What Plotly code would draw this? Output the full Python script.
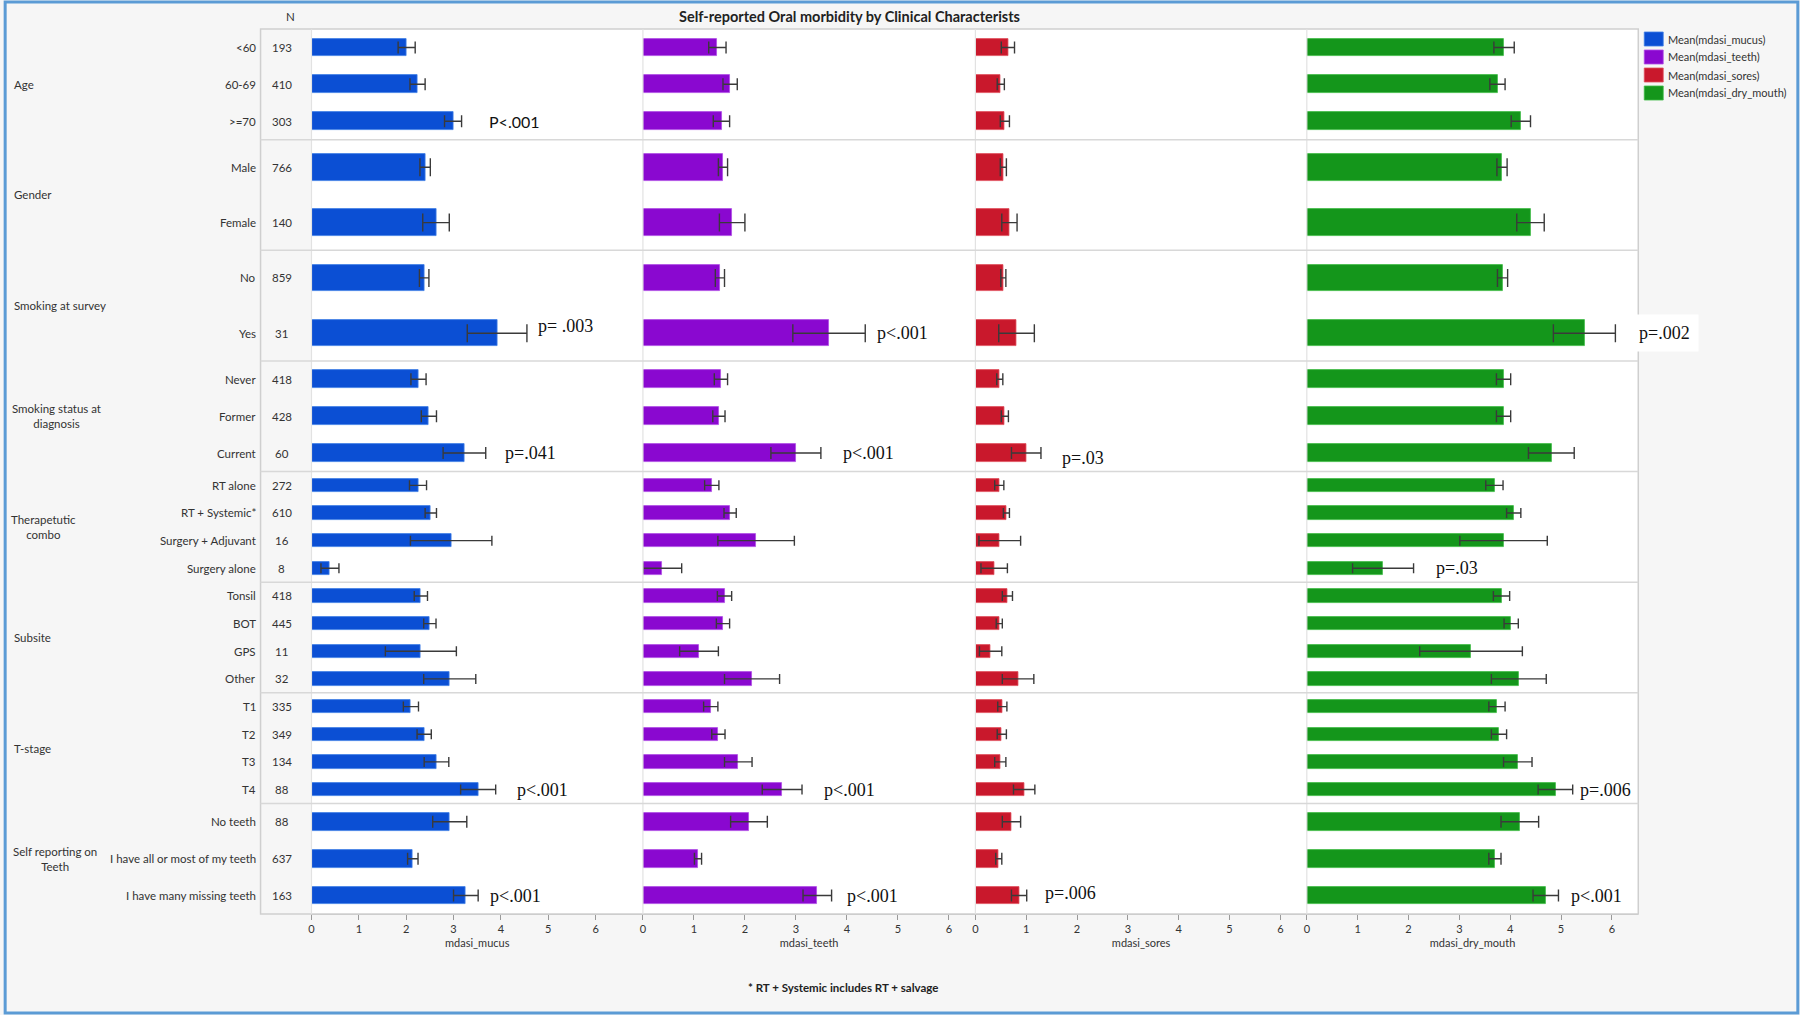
import plotly.graph_objects as go

# ---------------- data ----------------
groups = ["Age", "Gender", "Smoking at survey", "Smoking status at<br>diagnosis",
          "Therapetutic<br>combo", "Subsite", "T-stage", "Self reporting on<br>Teeth"]
categories = [["<60", "60-69", ">=70"],
              ["Male", "Female"],
              ["No", "Yes"],
              ["Never", "Former", "Current"],
              ["RT alone", "RT + Systemic*", "Surgery + Adjuvant", "Surgery alone"],
              ["Tonsil", "BOT", "GPS", "Other"],
              ["T1", "T2", "T3", "T4"],
              ["No teeth", "I have all or most of my teeth", "I have many missing teeth"]]
n_counts = [[193, 410, 303], [766, 140], [859, 31], [418, 428, 60],
            [272, 610, 16, 8], [418, 445, 11, 32], [335, 349, 134, 88], [88, 637, 163]]

measures = ["mdasi_mucus", "mdasi_teeth", "mdasi_sores", "mdasi_dry_mouth"]

mucus_mean = [2.01, 2.24, 2.99, 2.40, 2.63, 2.38, 3.92, 2.26, 2.48, 3.23,
              2.25, 2.52, 2.95, 0.39, 2.31, 2.50, 2.31, 2.92,
              2.10, 2.38, 2.64, 3.52, 2.92, 2.14, 3.26]
mucus_err = [0.18, 0.16, 0.18, 0.11, 0.28, 0.10, 0.63, 0.16, 0.16, 0.45,
             0.18, 0.12, 0.86, 0.19, 0.14, 0.13, 0.75, 0.55,
             0.16, 0.15, 0.26, 0.37, 0.36, 0.11, 0.26]
teeth_mean = [1.46, 1.71, 1.54, 1.57, 1.75, 1.51, 3.65, 1.53, 1.49, 3.00,
              1.35, 1.71, 2.22, 0.38, 1.60, 1.57, 1.10, 2.14,
              1.33, 1.48, 1.87, 2.73, 2.08, 1.08, 3.42]
teeth_err = [0.17, 0.14, 0.16, 0.09, 0.25, 0.09, 0.71, 0.13, 0.12, 0.49,
             0.14, 0.12, 0.75, 0.38, 0.14, 0.13, 0.38, 0.54,
             0.14, 0.13, 0.27, 0.39, 0.36, 0.07, 0.28]
sores_mean = [0.64, 0.50, 0.58, 0.55, 0.67, 0.55, 0.81, 0.48, 0.58, 1.00,
              0.47, 0.61, 0.48, 0.37, 0.63, 0.47, 0.30, 0.84,
              0.53, 0.52, 0.49, 0.96, 0.71, 0.46, 0.86]
sores_err = [0.13, 0.07, 0.09, 0.06, 0.15, 0.05, 0.35, 0.06, 0.07, 0.29,
             0.09, 0.06, 0.41, 0.26, 0.10, 0.06, 0.22, 0.31,
             0.09, 0.09, 0.11, 0.21, 0.18, 0.06, 0.15]
dry_mean = [3.88, 3.75, 4.21, 3.84, 4.40, 3.85, 5.46, 3.87, 3.87, 4.81,
            3.69, 4.07, 3.87, 1.50, 3.83, 4.02, 3.23, 4.17,
            3.74, 3.78, 4.15, 4.89, 4.19, 3.70, 4.70]
dry_err = [0.20, 0.15, 0.19, 0.10, 0.27, 0.10, 0.61, 0.14, 0.14, 0.45,
           0.17, 0.14, 0.86, 0.60, 0.16, 0.14, 1.01, 0.54,
           0.16, 0.15, 0.28, 0.34, 0.37, 0.12, 0.25]

# p-value labels: panel index, group index, row in group, text, start value on axis
p_panel = [0, 0, 1, 0, 1, 2, 3, 3, 0, 1, 3, 0, 1, 2, 3]
p_group = [0, 2, 2, 3, 3, 3, 2, 4, 6, 6, 6, 7, 7, 7, 7]
p_row = [2, 1, 1, 2, 2, 2, 1, 3, 3, 3, 3, 2, 2, 2, 2]
p_text = ["P<.001", "p= .003", "p<.001", "p=.041", "p<.001", "p=.03", "p=.002", "p=.03",
          "p<.001", "p<.001", "p=.006", "p<.001", "p<.001", "p=.006", "p<.001"]
p_xval = [3.70, 4.75, 4.55, 4.04, 3.89, 1.67, 6.36, 2.50,
          4.29, 3.52, 5.34, 3.72, 3.97, 1.34, 5.16]

footnote = "* RT + Systemic includes RT + salvage"
title = "Self-reported Oral morbidity by Clinical Characterists"

# ---------------- styling ----------------
W, H = 1800, 1015
means = [mucus_mean, teeth_mean, sores_mean, dry_mean]
errs = [mucus_err, teeth_err, sores_err, dry_err]
colors = ["#0b4fd4", "#8a08d0", "#c9182c", "#14961b"]
edges = ["#3f7fe6", "#b04de6", "#e0505e", "#3dbb45"]
x_ranges = [[0, 7.0], [0, 6.52], [0, 6.52], [0, 6.52]]
panel_px = [309, 641, 974, 1306, 1638]
top_px, bot_px = 29, 914
cap_w = {2: 9, 3: 6, 4: 5}
p_shift = {1: 7, 5: -5, 13: 3}   # small vertical nudges of a few p-value labels (px)
LBL = "Lato"


def px(v):
    return v / W


def py(v):
    return 1 - v / H


fig = go.Figure()
axes = ["x", "x2", "x3", "x4"]

for p in range(4):
    k = 0
    for g, cats in enumerate(categories):
        n = len(cats)
        ys = [g + (i + 0.5) / n for i in range(n)]
        fig.add_trace(go.Bar(
            x=means[p][k:k + n], y=ys, orientation="h",
            width=[0.48 / n] * n,
            marker=dict(color=colors[p], line=dict(color=edges[p], width=0.8)),
            error_x=dict(type="data", array=errs[p][k:k + n], symmetric=True,
                         color="#3a3a3a", thickness=1.4, width=cap_w[n]),
            xaxis=axes[p], yaxis="y", showlegend=False,
            name="Mean(" + measures[p] + ")",
            hovertext=cats,
        ))
        k += n

layout_axes = {}
for p in range(4):
    key = "xaxis" if p == 0 else "xaxis%d" % (p + 1)
    layout_axes[key] = dict(
        domain=[px(panel_px[p]), px(panel_px[p + 1])],
        range=x_ranges[p], anchor="y",
        tickvals=[0, 1, 2, 3, 4, 5, 6], ticks="outside", ticklen=5,
        tickcolor="#9a9a9a", tickfont=dict(family=LBL, size=11, color="#333"),
        showgrid=False, zeroline=False, showline=True, linecolor="#c4c4c4",
        title=dict(text=measures[p], font=dict(family=LBL, size=11, color="#333"),
                   standoff=5),
        fixedrange=True,
    )

fig.update_layout(
    width=W, height=H,
    margin=dict(l=0, r=0, t=0, b=0),
    paper_bgcolor="#f6f6f6", plot_bgcolor="#ffffff",
    barmode="overlay", bargap=0,
    yaxis=dict(domain=[py(bot_px), py(top_px)], range=[8, 0],
               showticklabels=False, ticks="", showgrid=False, zeroline=False,
               showline=False, fixedrange=True),
    showlegend=False,
    **layout_axes,
)

shapes = []
ann = []

# outer frame
shapes.append(dict(type="rect", xref="paper", yref="paper", x0=0.0012, x1=0.9988,
                   y0=0.002, y1=0.998, line=dict(color="#5b9bd5", width=3)))
# plot frame (incl. N column)
shapes.append(dict(type="rect", xref="paper", yref="paper", x0=px(258), x1=px(1638),
                   y0=py(bot_px), y1=py(top_px), line=dict(color="#cfcfcf", width=1.5)))
# vertical separators
for xv in [309, 641, 974, 1306]:
    shapes.append(dict(type="line", xref="paper", yref="paper", x0=px(xv), x1=px(xv),
                       y0=py(bot_px), y1=py(top_px), line=dict(color="#e2e2e2", width=1.2)))
# group separators
for g in range(1, len(groups)):
    shapes.append(dict(type="line", xref="paper", yref="y", x0=px(258), x1=px(1638),
                       y0=g, y1=g, line=dict(color="#d8d8d8", width=1.5)))

# group labels
ml_center = {"Smoking status at<br>diagnosis": 54, "Therapetutic<br>combo": 41,
             "Self reporting on<br>Teeth": 52}
for g, lab in enumerate(groups):
    if lab in ml_center:
        ann.append(dict(x=px(ml_center[lab]), xref="paper", y=g + 0.5, yref="y",
                        text=lab, showarrow=False, xanchor="center", yanchor="middle",
                        align="center", font=dict(family=LBL, size=11.5, color="#333")))
    else:
        ann.append(dict(x=px(9), xref="paper", y=g + 0.5, yref="y", text=lab,
                        showarrow=False, xanchor="left", yanchor="middle",
                        font=dict(family=LBL, size=11.5, color="#333")))

# category labels and N
for g, cats in enumerate(categories):
    n = len(cats)
    for i, c in enumerate(cats):
        yv = g + (i + 0.5) / n
        ann.append(dict(x=px(255), xref="paper", y=yv, yref="y", text=c, showarrow=False,
                        xanchor="right", yanchor="middle",
                        font=dict(family=LBL, size=11.5, color="#333")))
        ann.append(dict(x=px(279), xref="paper", y=yv, yref="y", text=str(n_counts[g][i]),
                        showarrow=False, xanchor="center", yanchor="middle",
                        font=dict(family=LBL, size=11.5, color="#333")))

ann.append(dict(x=px(281), xref="paper", y=py(16), yref="paper", text="N", showarrow=False,
                yanchor="middle", font=dict(family=LBL, size=11.5, color="#333")))
ann.append(dict(x=px(848), xref="paper", y=py(16), yref="paper", text="<b>" + title + "</b>",
                showarrow=False, yanchor="middle",
                font=dict(family=LBL, size=14.5, color="#222")))
ann.append(dict(x=px(841), xref="paper", y=py(987), yref="paper", text="<b>" + footnote + "</b>",
                showarrow=False, yanchor="middle",
                font=dict(family=LBL, size=11.5, color="#222")))

# p-value labels
for j in range(len(p_text)):
    g = p_group[j]
    n = len(categories[g])
    yv = g + (p_row[j] + 0.5) / n
    sans = p_text[j].startswith("P")
    a = dict(x=p_xval[j], xref=axes[p_panel[j]], y=yv, yref="y", text=p_text[j],
             showarrow=False, xanchor="left", yanchor="middle",
             yshift=p_shift.get(j, 0),
             font=dict(family="Lato" if sans else "Liberation Serif",
                       size=16 if sans else 18, color="#111"))
    if p_text[j] == "p=.002":
        a["bgcolor"] = "#ffffff"
        a["borderpad"] = 8
    ann.append(a)

# manual legend
leg_y = [39, 57, 75, 93]
for p in range(4):
    shapes.append(dict(type="rect", xref="paper", yref="paper", x0=px(1644), x1=px(1663),
                       y0=py(leg_y[p] + 7), y1=py(leg_y[p] - 7),
                       fillcolor=colors[p], line=dict(color=edges[p], width=0.8)))
    ann.append(dict(x=px(1666), xref="paper", y=py(leg_y[p]), yref="paper",
                    text="Mean(" + measures[p] + ")", showarrow=False, xanchor="left",
                    yanchor="middle", font=dict(family=LBL, size=11, color="#333")))

fig.update_layout(shapes=shapes, annotations=ann)
fig.write_html("out.html",
               config={"displayModeBar": False},
               post_script="document.body.style.margin='0px';"
                           "document.body.style.overflow='hidden';")
